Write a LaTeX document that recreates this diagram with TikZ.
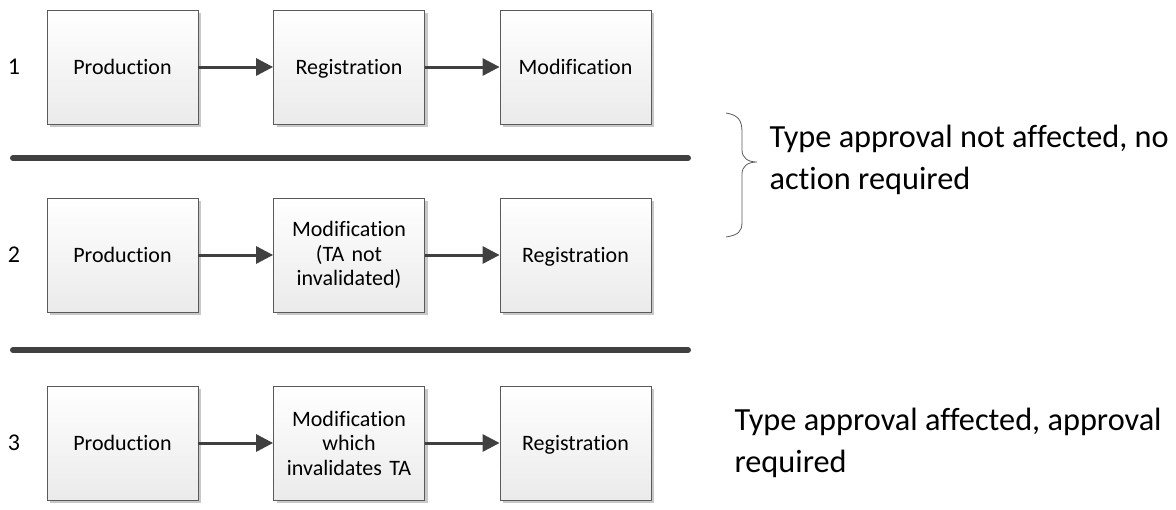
\documentclass[tikz,border=0pt]{standalone}
\usepackage{fontspec}
\setmainfont[RawFeature=-liga]{Carlito}
\usetikzlibrary{arrows.meta,shadows}
\definecolor{edge}{HTML}{5A5A5A}
\definecolor{dark}{HTML}{404040}
\definecolor{shd}{HTML}{C8C8C8}
\newcommand{\nodp}[1]{\raisebox{0pt}[\height][0pt]{#1}}
\tikzset{
  stepbox/.style={draw=edge, line width=0.8pt, top color=white, bottom color=black!8,
    minimum width=151pt, minimum height=114pt, inner sep=4pt, align=center,
    font=\fontsize{22}{24.5}\selectfont, text width=140pt,
    drop shadow={shadow xshift=3pt, shadow yshift=-3pt, fill=shd, opacity=1}},
  flow/.style={draw=dark, line width=3pt, -{Triangle[length=17pt,width=17pt]}, shorten >=0pt},
  sep/.style={draw=dark, line width=6pt, line cap=round},
  num/.style={font=\fontsize{24}{26}\selectfont, anchor=center},
  note/.style={font=\fontsize{32.3}{42}\selectfont, anchor=north west, align=left}
}
\begin{document}
\begin{tikzpicture}[x=1pt,y=-1pt]
\useasboundingbox (0,0) rectangle (1176,509);
% row 1
\node[num] (n1) at (14,67) {1};
\node[stepbox] (a1) at (122.5,67) {\nodp{Production}};
\node[stepbox] (b1) at (349,67) {\nodp{Registration}};
\node[stepbox] (c1) at (575.5,67) {\nodp{Modification}};
\draw[flow] (a1.east) -- (b1.west);
\draw[flow] (b1.east) -- (c1.west);
% separator 1
\coordinate (s1a) at (13,158);
\coordinate (s1b) at (688,158);
\draw[sep] (s1a) -- (s1b);
% row 2
\node[num] (n2) at (14,255) {2};
\node[stepbox] (a2) at (122.5,255) {\nodp{Production}};
\node[stepbox] (b2) at (349,255) {Modification\\(TA not\\invalidated)};
\node[stepbox] (c2) at (575.5,255) {\nodp{Registration}};
\draw[flow] (a2.east) -- (b2.west);
\draw[flow] (b2.east) -- (c2.west);
% separator 2
\coordinate (s2a) at (13,350);
\coordinate (s2b) at (688,350);
\draw[sep] (s2a) -- (s2b);
% row 3
\node[num] (n3) at (14,443) {3};
\node[stepbox] (a3) at (122.5,443) {\nodp{Production}};
\node[stepbox] (b3) at (349,443) {Modification\\which\\invalidates TA};
\node[stepbox] (c3) at (575.5,443) {\nodp{Registration}};
\draw[flow] (a3.east) -- (b3.west);
\draw[flow] (b3.east) -- (c3.west);
% brace
\coordinate (bt) at (726,113);
\coordinate (bb) at (726,237);
\coordinate (tip) at (757,162);
\draw[edge, line width=0.8pt] (bt) .. controls (738,115) and (742,120) .. (742,132)
  -- (742,150) .. controls (742,158) and (748,162) .. (tip)
  .. controls (748,162) and (742,166) .. (742,174)
  -- (742,222) .. controls (742,232) and (738,235) .. (bb);
% notes
\node[note] (t1) at (766,122) {Type approval not affected, no\\action required};
\node[note] (t2) at (731,405) {Type approval affected, approval\\required};
\end{tikzpicture}
\end{document}
